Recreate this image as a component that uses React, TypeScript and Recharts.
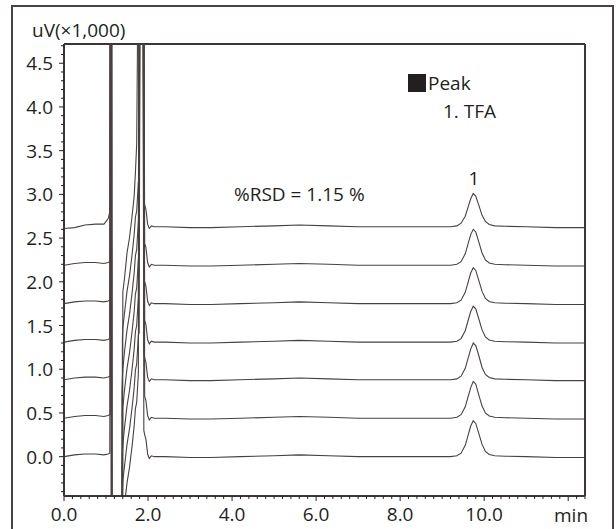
import { LineChart, Line, XAxis, YAxis, ReferenceLine } from 'recharts';

// retention time grid (min), shared by all seven injections
const times = [
  0, 0.25, 0.5, 0.75, 0.95, 1.05, 1.09,
  1.1, 1.11, 1.12, 1.13, 1.14, 1.15,
  1.37, 1.38, 1.39, 1.4,
  1.44, 1.5, 1.56, 1.62, 1.67, 1.7, 1.73, 1.77,
  1.79, 1.81, 1.88, 1.9, 1.92,
  1.95, 1.99, 2.03, 2.08, 2.15, 2.4, 3.0, 3.5, 4.2, 5.0, 5.6, 6.3, 7.0, 7.8, 8.6, 9.2,
  9.35, 9.45, 9.55, 9.62, 9.68, 9.74, 9.8, 9.87, 9.95, 10.03, 10.12, 10.25, 10.5,
  11.0, 11.7, 12.4,
];

// signal (uV x 1,000), each injection offset upward in the plot
const run1 = [
  0, 0.02, 0.03, 0.03, 0.02, 0.03, 0.04,
  6, 6, 6, -3, -3, -3,
  -3, -3, -3, -0.75,
  -0.55, -0.3, -0.12, 0.12, 0.35, 0.55, 0.62, 0.95,
  6, 6, 6, 0.3, 0.25,
  0.2, 0.03, -0.02, 0.01, 0, 0, -0.01, -0.01, 0, 0.01, 0.02, 0.01, 0, 0, 0, 0,
  0.01, 0.04, 0.13, 0.25, 0.35, 0.41, 0.38, 0.27, 0.14, 0.06, 0.025, 0.01, 0.005,
  0, -0.01, -0.01,
];
const run2 = [
  0.44, 0.46, 0.47, 0.47, 0.46, 0.47, 0.48,
  0.48, 6, 6, 6, -3, -3,
  -3, -3, -0.4, -0.28,
  -0.11, 0.14, 0.32, 0.56, 0.79, 0.99, 1.06, 1.39,
  1.42, 6, 6, 6, 0.69,
  0.64, 0.47, 0.42, 0.45, 0.44, 0.44, 0.43, 0.43, 0.44, 0.45, 0.46, 0.45, 0.44, 0.44, 0.44, 0.44,
  0.45, 0.48, 0.57, 0.69, 0.79, 0.86, 0.83, 0.71, 0.58, 0.5, 0.465, 0.45, 0.445,
  0.44, 0.43, 0.43,
];
const run3 = [
  0.88, 0.9, 0.91, 0.91, 0.9, 0.91, 0.92,
  0.92, 0.92, 6, 6, -3, -3,
  -3, -0.12, 0.03, 0.13,
  0.33, 0.58, 0.76, 1.0, 1.23, 1.43, 1.5, 1.83,
  6, 6, 6, 1.18, 1.13,
  1.08, 0.91, 0.86, 0.89, 0.88, 0.88, 0.87, 0.87, 0.88, 0.89, 0.9, 0.89, 0.88, 0.88, 0.88, 0.88,
  0.89, 0.92, 1.01, 1.13, 1.23, 1.3, 1.27, 1.16, 1.02, 0.94, 0.905, 0.89, 0.885,
  0.88, 0.87, 0.87,
];
const run4 = [
  1.31, 1.33, 1.34, 1.34, 1.33, 1.34, 1.35,
  6, 6, 6, 6, -3, -3,
  -3, -3, -3, 0.56,
  0.76, 1.01, 1.19, 1.43, 1.66, 1.86, 1.93, 2.26,
  2.29, 6, 6, 6, 1.56,
  1.51, 1.34, 1.29, 1.32, 1.31, 1.31, 1.3, 1.3, 1.31, 1.32, 1.33, 1.32, 1.31, 1.31, 1.31, 1.31,
  1.32, 1.35, 1.44, 1.56, 1.66, 1.72, 1.69, 1.58, 1.45, 1.37, 1.335, 1.32, 1.315,
  1.31, 1.3, 1.3,
];
const run5 = [
  1.75, 1.77, 1.78, 1.78, 1.77, 1.78, 1.79,
  1.79, 6, 6, -3, -3, -3,
  -3, 0.75, 0.9, 1.0,
  1.2, 1.45, 1.63, 1.87, 2.1, 2.3, 2.37, 2.7,
  6, 6, 6, 2.05, 2.0,
  1.95, 1.78, 1.73, 1.76, 1.75, 1.75, 1.74, 1.74, 1.75, 1.76, 1.77, 1.76, 1.75, 1.75, 1.75, 1.75,
  1.76, 1.79, 1.88, 2.0, 2.1, 2.16, 2.13, 2.02, 1.89, 1.81, 1.775, 1.76, 1.755,
  1.75, 1.74, 1.74,
];
const run6 = [
  2.19, 2.21, 2.22, 2.22, 2.21, 2.22, 2.23,
  2.23, 2.23, 6, 6, 6, -3,
  -3, -3, 1.35, 1.47,
  1.64, 1.89, 2.07, 2.31, 2.54, 2.74, 2.81, 3.14,
  3.17, 6, 6, 6, 2.44,
  2.39, 2.22, 2.17, 2.2, 2.19, 2.19, 2.18, 2.18, 2.19, 2.2, 2.21, 2.2, 2.19, 2.19, 2.19, 2.19,
  2.2, 2.23, 2.32, 2.44, 2.54, 2.6, 2.57, 2.46, 2.33, 2.25, 2.215, 2.2, 2.195,
  2.19, 2.18, 2.18,
];
const run7 = [
  2.61, 2.62, 2.65, 2.66, 2.66, 2.72, 2.8,
  6, 6, 6, -3, -3, -3,
  -3, -3, -3, 1.88,
  2.04, 2.33, 2.51, 2.75, 2.98, 3.25, 3.58, 6,
  6, 6, 6, 2.93, 2.88,
  2.83, 2.66, 2.61, 2.64, 2.63, 2.63, 2.62, 2.62, 2.63, 2.64, 2.65, 2.64, 2.63, 2.63, 2.63, 2.63,
  2.64, 2.67, 2.75, 2.86, 2.95, 3.01, 2.98, 2.88, 2.76, 2.69, 2.655, 2.64, 2.635,
  2.63, 2.62, 2.62,
];

const runs = [run1, run2, run3, run4, run5, run6, run7];

const xMajor = [0, 2, 4, 6, 8, 10, 12];
const xLabels = [0, 2, 4, 6, 8, 10];
const yLabels = [0, 0.5, 1, 1.5, 2, 2.5, 3, 3.5, 4, 4.5];

const X_MAX = 12.4;
const Y_MIN = -0.45;
const Y_MAX = 4.72;

// minor ticks every 0.2 min and every 0.1 on the signal axis
const xTicks = Array.from({ length: 63 }, (_, i) => +(i * 0.2).toFixed(1));
const yTicks = Array.from({ length: 52 }, (_, i) => +(-0.4 + i * 0.1).toFixed(1));

const chartData = times.map((t, i) => {
  const row: Record<string, number> = { t };
  runs.forEach((r, k) => {
    row[`r${k}`] = r[i];
  });
  return row;
});

const ink = '#231f20';
const frame = '#3d3535';
const traceColor = '#4a4040';
const font = '"Open Sans", "Noto Sans", sans-serif';

const XTick = ({ x, y, payload }: any) => {
  const v = payload.value;
  const major = xMajor.some((m) => Math.abs(m - v) < 1e-6);
  const labelled = xLabels.some((m) => Math.abs(m - v) < 1e-6);
  return (
    <g>
      <line x1={x} x2={x} y1={y} y2={y + (major ? 5 : 3)} stroke={ink} strokeWidth={1} />
      {labelled && (
        <text x={x} y={y + 25} textAnchor="middle" fontSize={19} fontFamily={font} fill={ink}>
          {v.toFixed(1)}
        </text>
      )}
    </g>
  );
};

const YTick = ({ x, y, payload }: any) => {
  const v = payload.value;
  const major = yLabels.some((m) => Math.abs(m - v) < 1e-6);
  return (
    <g>
      <line x1={x} x2={x - (major ? 5 : 3)} y1={y} y2={y} stroke={ink} strokeWidth={1} />
      {major && (
        <text x={x - 11} y={y + 7} textAnchor="end" fontSize={19} fontFamily={font} fill={ink}>
          {v.toFixed(1)}
        </text>
      )}
    </g>
  );
};

export default function App() {
  return (
    <div style={{ position: 'absolute', left: 0, top: 0, width: 616, height: 529, overflow: 'hidden', background: '#fff' }}>
      {/* outer frame */}
      <div
        style={{
          position: 'absolute',
          left: 11,
          top: 5,
          width: 603,
          height: 600,
          border: `2px solid #4a4242`,
          boxSizing: 'border-box',
        }}
      />
      <div style={{ position: 'absolute', left: 0, top: 0 }}>
        <LineChart width={616} height={529} data={chartData} margin={{ top: 44, right: 31, left: 14, bottom: 0 }}>
          <XAxis
            dataKey="t"
            type="number"
            domain={[0, X_MAX]}
            allowDataOverflow
            ticks={xTicks}
            interval={0}
            tickLine={false}
            tickSize={0}
            tickMargin={0}
            tick={<XTick />}
            axisLine={{ stroke: frame, strokeWidth: 2 }}
            height={33}
          />
          <YAxis
            type="number"
            domain={[Y_MIN, Y_MAX]}
            allowDataOverflow
            ticks={yTicks}
            interval={0}
            tickLine={false}
            tickSize={0}
            tickMargin={0}
            tick={<YTick />}
            axisLine={{ stroke: frame, strokeWidth: 2 }}
            width={50}
          />
          <ReferenceLine y={Y_MAX} stroke={frame} strokeWidth={2} />
          <ReferenceLine x={X_MAX} stroke={frame} strokeWidth={2} />
          {runs.map((_, k) => (
            <Line
              key={k}
              type="linear"
              dataKey={`r${k}`}
              stroke={traceColor}
              strokeWidth={1.1}
              dot={false}
              activeDot={false}
              isAnimationActive={false}
            />
          ))}
        </LineChart>
      </div>
      {/* annotations */}
      <svg width={616} height={529} style={{ position: 'absolute', left: 0, top: 0, pointerEvents: 'none' }}>
        <g fontFamily={font} fontSize={19} fill={ink}>
          <text x={32} y={37}>uV(×1,000)</text>
          <text x={554} y={522}>min</text>
          <text x={234} y={201}>%RSD = 1.15 %</text>
          <rect x={408} y={74} width={18} height={18} fill={ink} />
          <text x={428} y={90}>Peak</text>
          <text x={443} y={118}>1. TFA</text>
          <text x={474} y={185} textAnchor="middle">1</text>
        </g>
      </svg>
    </div>
  );
}
